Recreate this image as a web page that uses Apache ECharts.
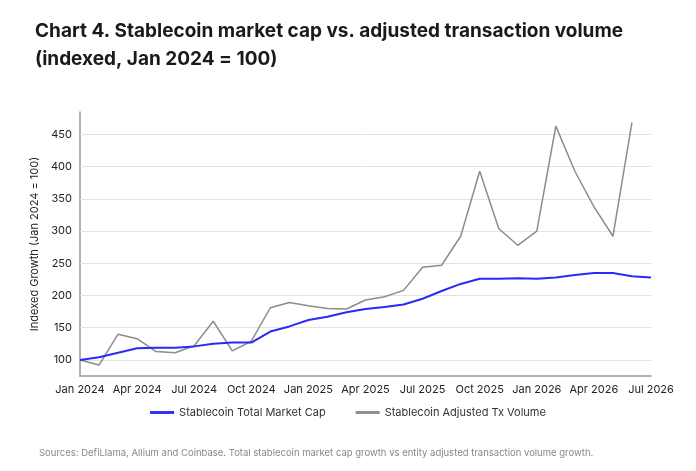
<!DOCTYPE html>
<html><head><meta charset="utf-8">
<script src="https://cdn.jsdelivr.net/npm/echarts@6/dist/echarts.min.js"></script>
<style>body{margin:0;background:#fff}#c{width:696px;height:471px}</style>
</head><body><div id="c"></div>
<script>
const months = ["Jan","Feb","Mar","Apr","May","Jun","Jul","Aug","Sep","Oct","Nov","Dec"];
const categories = [];
for (let y = 2024; y <= 2026; y++) for (const m of months) categories.push(m + " " + y);
categories.length = 31;
const marketCap = [100,104,111,118,119,119,121,125,127,127,144,152,162,167,174,179,182,186,195,207,218,226,226,227,226,228,232,235,235,230,228];
const txVolume = [100,92,140,133,113,111,122,160,114,129,181,189,184,180,179,193,198,208,244,247,292,393,304,278,300,463,393,338,292,469,null];
const yTicks = [100,150,200,250,300,350,400,450];
const font = "Inter, 'Noto Sans', sans-serif";
const chart = echarts.init(document.getElementById('c'));
chart.setOption({
  animation:false,
  textStyle:{fontFamily:font},
  title:[
    {text:"Chart 4. Stablecoin market cap vs. adjusted transaction volume\n(indexed, Jan 2024 = 100)",left:30,top:12,
     textStyle:{fontSize:19,fontWeight:'bold',color:'#1a1a1a',lineHeight:28,fontFamily:font}},
    {text:"Sources: DefiLlama, Allium and Coinbase. Total stablecoin market cap growth vs entity adjusted transaction volume growth.",
     left:34,top:443,textStyle:{fontSize:9.5,fontWeight:'normal',color:'#888',fontFamily:font}}
  ],
  legend:{bottom:48,left:'center',itemWidth:24,itemGap:30,icon:'path://M0,0H1V0.12H0Z',
    textStyle:{fontSize:11,color:'#333'},
    data:["Stablecoin Total Market Cap","Stablecoin Adjusted Tx Volume"]},
  grid:{left:80,right:45,top:112,bottom:95},
  xAxis:{type:'category',data:categories,boundaryGap:false,
    axisLine:{lineStyle:{color:'#999',width:1.5}},axisTick:{show:false},
    axisLabel:{interval:2,color:'#222',fontSize:11,margin:8}},
  yAxis:{type:'value',min:75,max:485,interval:25,
    name:"Indexed Growth (Jan 2024 = 100)",nameLocation:'middle',nameGap:38,
    nameTextStyle:{fontSize:11,color:'#222'},
    axisLine:{show:true,lineStyle:{color:'#999',width:1.5}},
    axisLabel:{color:'#222',fontSize:11,showMaxLabel:false,formatter:v=>v%50===0?String(v):''},
    splitLine:{show:false}},
  series:[
    {name:"Stablecoin Total Market Cap",type:'line',data:marketCap,symbol:'none',z:3,
     lineStyle:{color:'#2a2af5',width:2},itemStyle:{color:'#2a2af5'},
     markLine:{silent:true,symbol:'none',label:{show:false},z:1,
       lineStyle:{color:'#e3e3e3',type:'solid',width:1},
       data:yTicks.map(v=>({yAxis:v}))}},
    {name:"Stablecoin Adjusted Tx Volume",type:'line',data:txVolume,symbol:'none',z:2,
     lineStyle:{color:'#8c8c8c',width:1.5},itemStyle:{color:'#8c8c8c'}}
  ]
});
</script></body></html>
